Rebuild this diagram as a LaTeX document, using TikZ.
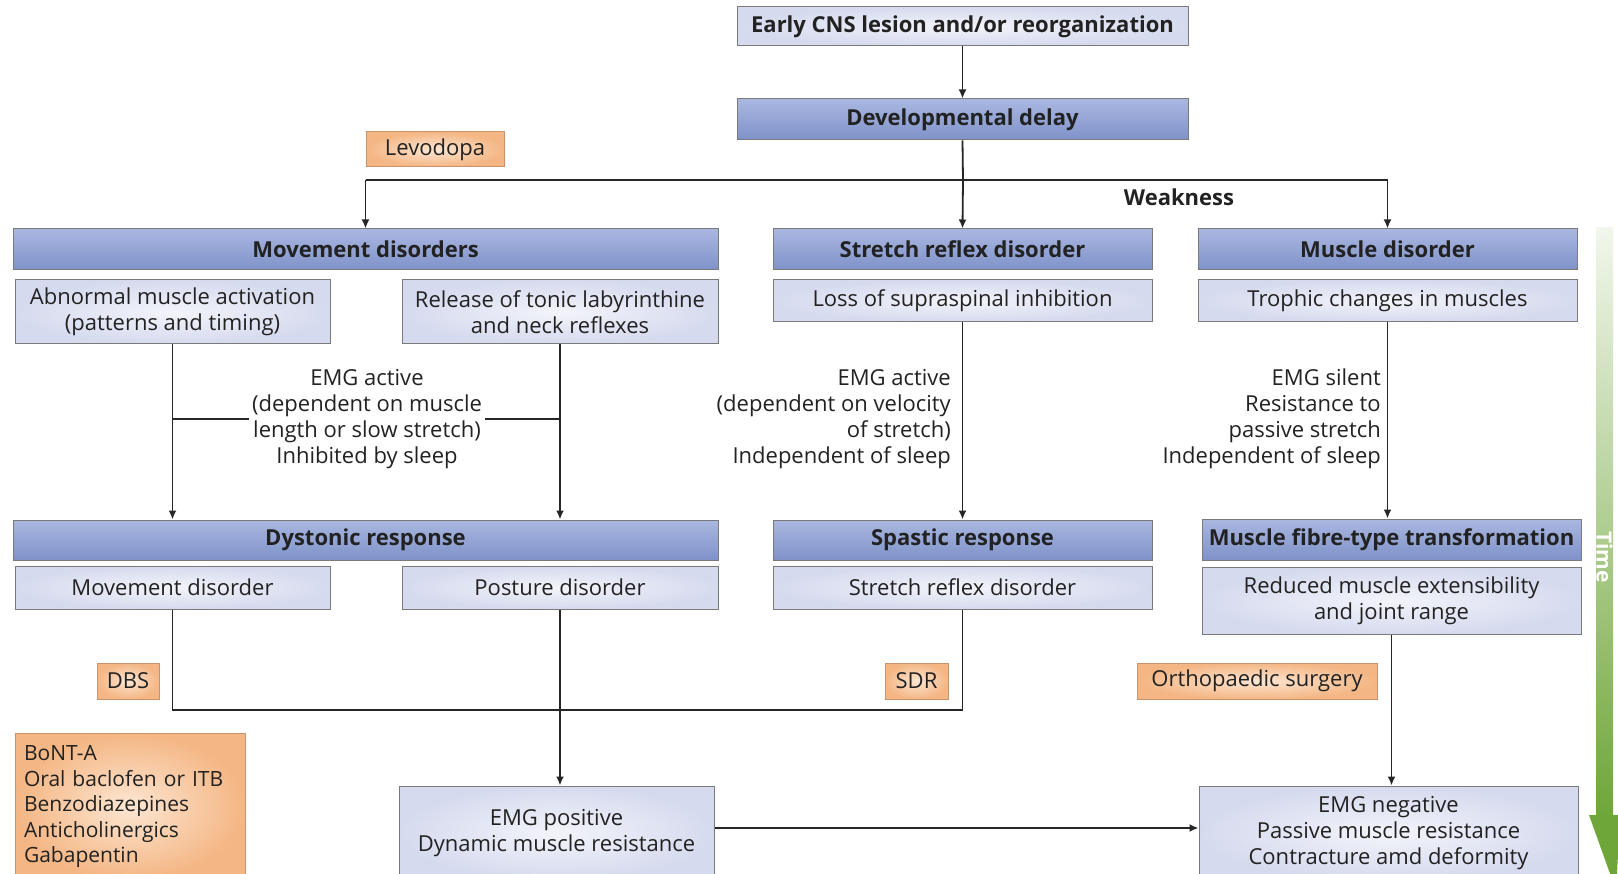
\documentclass[tikz,border=0pt]{standalone}
\usepackage{fontspec}
\setmainfont{Open Sans}
\usetikzlibrary{arrows.meta}
\definecolor{textc}{HTML}{222222}
\definecolor{edgec}{HTML}{7A7A7A}
\definecolor{hdrtop}{HTML}{A9B7E0}
\definecolor{hdrbot}{HTML}{7F92C9}
\definecolor{lin}{HTML}{F3F4FA}
\definecolor{lout}{HTML}{D5DAEE}
\definecolor{oin}{HTML}{FDE6D2}
\definecolor{oout}{HTML}{F4B684}
\definecolor{oedge}{HTML}{C8936A}
\definecolor{gtop}{HTML}{F2F6EC}
\definecolor{gmid}{HTML}{A4C97E}
\definecolor{gbot}{HTML}{6FA63A}
\begin{document}
\begin{tikzpicture}[x=1pt,y=-1pt,
  hdr/.style={draw=edgec, line width=1pt, top color=hdrtop, bottom color=hdrbot,
    font=\bfseries\fontsize{22}{24}\selectfont, text=textc, inner sep=0pt, align=center},
  lbox/.style={draw=edgec, line width=1pt, inner color=lin, outer color=lout,
    font=\fontsize{22}{26}\selectfont, text=textc, inner sep=0pt, align=center},
  obox/.style={draw=oedge, line width=1pt, inner color=oin, outer color=oout,
    font=\fontsize{22}{26}\selectfont, text=textc, inner sep=0pt, align=center},
  note/.style={font=\fontsize{22}{26}\selectfont, text=textc, inner sep=3pt},
  conn/.style={line width=1.8pt, draw=black!85},
  arr/.style={conn, -{Latex[length=9pt,width=8pt]}}
]
\clip (0,0) rectangle (1618,874);
\fill[white] (0,0) rectangle (1618,874);

% top
\node[lbox, font=\bfseries\fontsize{22}{24}\selectfont, minimum width=451, minimum height=39] (cns) at (962.5,26.5) {Early CNS lesion and/or reorganization};
\node[hdr, minimum width=451, minimum height=41] (dev) at (962.5,119.5) {Developmental delay};
\node[obox, minimum width=138, minimum height=35] (levo) at (435,149.5) {Levodopa};

% row 1
\node[hdr, minimum width=705, minimum height=41] (mov) at (365.5,249.5) {Movement disorders};
\node[lbox, minimum width=315, minimum height=64] (abn) at (172.5,312) {Abnormal muscle activation\\(patterns and timing)};
\node[lbox, minimum width=316, minimum height=64] (rel) at (560,312) {Release of tonic labyrinthine\\and neck reflexes};
\node[hdr, minimum width=379, minimum height=41] (str) at (962.5,249.5) {Stretch reflex disorder};
\node[lbox, minimum width=379, minimum height=42] (loss) at (962.5,301) {Loss of supraspinal inhibition};
\node[hdr, minimum width=379, minimum height=41] (mus) at (1387.5,249.5) {Muscle disorder};
\node[lbox, minimum width=379, minimum height=42] (tro) at (1387.5,301) {Trophic changes in muscles};

% middle texts
\node[note, align=center] (emg1) at (367,419) {EMG active\\(dependent on muscle\\length or slow stretch)\\Inhibited by sleep};
\node[note, align=right, anchor=east, inner sep=0pt] (emg2) at (951,419) {EMG active\\(dependent on velocity\\of stretch)\\Independent of sleep};
\node[note, align=right, anchor=east, inner sep=0pt] (emg3) at (1381,419) {EMG silent\\Resistance to\\passive stretch\\Independent of sleep};

% row 2
\node[hdr, minimum width=705, minimum height=40] (dys) at (365.5,540) {Dystonic response};
\node[lbox, minimum width=315, minimum height=43] (movd) at (172.5,587.5) {Movement disorder};
\node[lbox, minimum width=316, minimum height=43] (pos) at (560,587.5) {Posture disorder};
\node[hdr, minimum width=379, minimum height=40] (spa) at (962.5,540) {Spastic response};
\node[lbox, minimum width=379, minimum height=43] (srd) at (962.5,587.5) {Stretch reflex disorder};
\node[hdr, minimum width=379, minimum height=41] (fib) at (1391.5,539.5) {Muscle fibre-type transformation};
\node[lbox, minimum width=379, minimum height=67] (red) at (1391.5,600.5) {Reduced muscle extensibility\\and joint range};

% treatments
\node[obox, minimum width=62, minimum height=36] (dbs) at (128,681) {DBS};
\node[obox, minimum width=63, minimum height=36] (sdr) at (916.5,681) {SDR};
\node[obox, minimum width=240, minimum height=36] (ortho) at (1257,681) {Orthopaedic surgery};
\node[obox, font=\fontsize{21}{25.5}\selectfont, align=left, text width=212, minimum width=230, minimum height=147] (drugs) at (130,806.5) {BoNT-A\\Oral baclofen or ITB\\Benzodiazepines\\Anticholinergics\\Gabapentin};

% bottom
\node[lbox, minimum width=315, minimum height=94] (emgp) at (556.5,833) {EMG positive\\Dynamic muscle resistance};
\node[lbox, minimum width=379, minimum height=94] (emgn) at (1388.5,833) {EMG negative\\Passive muscle resistance\\Contracture amd deformity};

% connectors
\draw[arr] (cns) -- (dev);
\coordinate (split) at (963,180);
\coordinate (lft) at (365.5,180);
\coordinate (rgt) at (1387.5,180);
\draw[conn] (dev.south) -- (split);
\draw[conn] (lft) -- (rgt);
\draw[arr] (lft) -- (mov.north);
\draw[arr] (split) -- (str.north);
\draw[arr] (rgt) -- (mus.north);
\node[font=\bfseries\fontsize{22}{24}\selectfont, text=textc] (weak) at (1179,197) {Weakness};

\draw[arr] (abn.south) -- (abn.south |- dys.north);
\draw[arr] (rel.south) -- (rel.south |- dys.north);
\draw[conn] (emg1.west) -- (emg1.west -| abn.south);
\draw[conn] (emg1.east) -- (emg1.east -| rel.south);
\draw[arr] (loss.south) -- (spa.north);
\draw[arr] (tro.south) -- (tro.south |- fib.north);

\coordinate (bl) at (172.5,710);
\draw[conn] (movd.south) -- (bl) -- (bl -| srd.south) -- (srd.south);
\draw[arr] (pos.south) -- (pos.south |- emgp.north);
\draw[arr] (red.south) -- (red.south |- emgn.north);
\draw[arr] (emgp.east |- 0,828) -- (emgn.west |- 0,828);

% time arrow
\shade[top color=gtop, middle color=gmid, bottom color=gbot] (1596,228) rectangle (1613,816);
\fill[gbot] (1589,815) -- (1620,815) -- (1617,874) -- (1613,882) -- cycle;
\node[rotate=-90, text=white, font=\bfseries\fontsize{21}{24}\selectfont] (time) at (1604.5,557) {Time};
\end{tikzpicture}
\end{document}
